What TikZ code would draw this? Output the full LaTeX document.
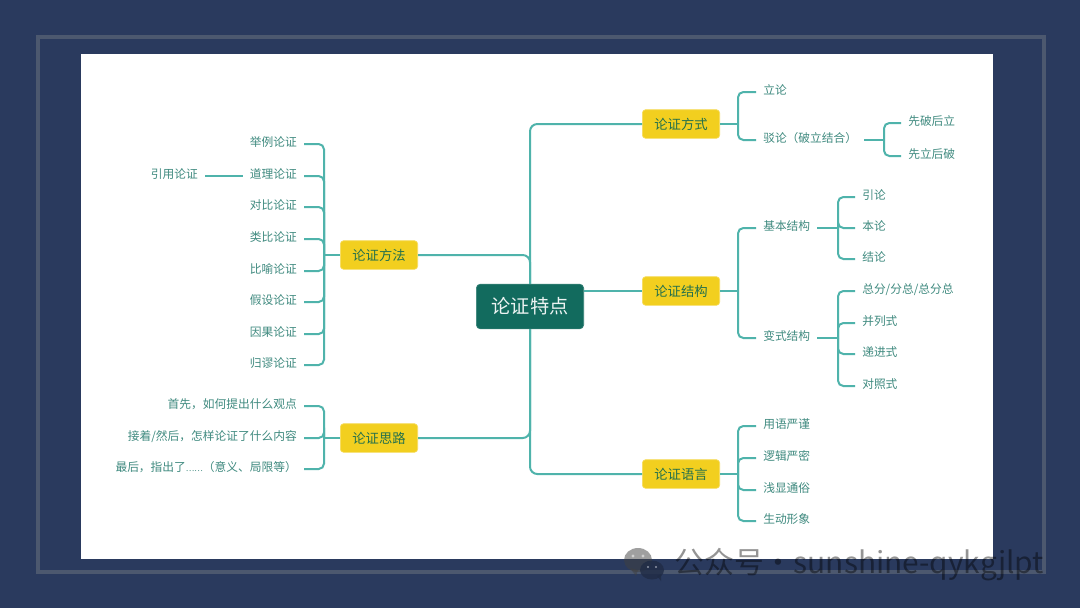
\documentclass[tikz,border=0pt]{standalone}
\usepackage{fontspec}
\setmainfont{Noto Sans CJK SC}
\definecolor{navy}{HTML}{2A3A5E}
\definecolor{framec}{HTML}{4C586F}
\definecolor{linec}{HTML}{4FB3AB}
\definecolor{rootc}{HTML}{126B5E}
\definecolor{yellowc}{HTML}{F2CF1F}
\definecolor{yellowt}{HTML}{24704C}
\definecolor{leaft}{HTML}{3F8A7F}
\tikzset{
  conn/.style={draw=linec,line width=1.5pt,rounded corners=4pt},
  trunk/.style={draw=linec,line width=1.5pt,rounded corners=5.5pt},
  leaf/.style={inner xsep=5.25pt,inner ysep=0pt,text=leaft,text height=7.3pt,text depth=3pt,font=\fontsize{8.8}{10}\selectfont},
  lleaf/.style={leaf,anchor=east},
  rleaf/.style={leaf,anchor=west},
  topic/.style={fill=yellowc,draw=yellowc!70!white,line width=.5pt,rounded corners=2.5pt,minimum width=58pt,minimum height=21.5pt,inner sep=0pt,text=yellowt,font=\fontsize{10}{12}\selectfont},
  rootbox/.style={fill=rootc,draw=rootc!85!white,line width=.5pt,rounded corners=3pt,minimum width=80.5pt,minimum height=33.5pt,inner sep=0pt,text=white!92!rootc,font=\fontsize{14.4}{17}\selectfont}
}
\begin{document}
\begin{tikzpicture}[x=0.75pt,y=-0.75pt]
\useasboundingbox (0,0) rectangle (1080,608);
\fill[navy] (0,0) rectangle (1080,608);
\draw[framec,line width=3pt] (38,36.5) rectangle (1043.5,571.5);
\fill[white] (80.5,54) rectangle (992.7,559.3);

% central and topics
\node[rootbox] (root) at (530,306.5) {论证特点};
\node[topic] (fs) at (681,124) {论证方式};
\node[topic] (jg) at (681,291) {论证结构};
\node[topic] (yy) at (681,474) {论证语言};
\node[topic] (ff) at (379,255) {论证方法};
\node[topic] (sl) at (379,438) {论证思路};

% left leaves: methods
\node[lleaf] (a1) at (304,144) {举例论证};
\node[lleaf] (a2) at (304,176) {道理论证};
\node[lleaf] (a3) at (304,207) {对比论证};
\node[lleaf] (a4) at (304,239) {类比论证};
\node[lleaf] (a5) at (304,271) {比喻论证};
\node[lleaf] (a6) at (304,302) {假设论证};
\node[lleaf] (a7) at (304,334) {因果论证};
\node[lleaf] (a8) at (304,365) {归谬论证};
\node[lleaf] (a0) at (205,176) {引用论证};
\coordinate (ffbus) at (324,255);

% left leaves: thinking
\node[lleaf] (b1) at (304,406) {首先，如何提出什么观点};
\node[lleaf] (b2) at (304,438) {接着/然后，怎样论证了什么内容};
\node[lleaf] (b3) at (304,469) {最后，指出了{\fontsize{6}{7}\selectfont ……}（意义、局限等）};
\coordinate (slbus) at (324,438);

% right leaves: way
\node[rleaf] (c1) at (756,92) {立论};
\node[rleaf] (c2) at (756,140) {驳论（破立结合）};
\node[rleaf] (c3) at (901,123) {先破后立};
\node[rleaf] (c4) at (901,156) {先立后破};
\coordinate (fsbus) at (738,124);
\coordinate (c2bus) at (884,140);

% right leaves: structure
\node[rleaf] (d1) at (756,228) {基本结构};
\node[rleaf] (d2) at (756,338) {变式结构};
\node[rleaf] (d3) at (855,197) {引论};
\node[rleaf] (d4) at (855,228) {本论};
\node[rleaf] (d5) at (855,259) {结论};
\node[rleaf] (d6) at (855,291) {总分/分总/总分总};
\node[rleaf] (d7) at (855,323) {并列式};
\node[rleaf] (d8) at (855,354) {递进式};
\node[rleaf] (d9) at (855,386) {对照式};
\coordinate (jgbus) at (738,291);
\coordinate (d1bus) at (838,228);
\coordinate (d2bus) at (838,338);

% right leaves: language
\node[rleaf] (e1) at (756,426) {用语严谨};
\node[rleaf] (e2) at (756,458) {逻辑严密};
\node[rleaf] (e3) at (756,490) {浅显通俗};
\node[rleaf] (e4) at (756,521) {生动形象};
\coordinate (yybus) at (738,474);

% trunk connectors
\draw[trunk] (root.north) |- (fs.west);
\draw[trunk] (root.south) |- (yy.west);
\draw[conn] (root.east |- jg.west) -- (jg.west);
\draw[trunk] (ff.east) -| (root.north);
\draw[trunk] (sl.east) -| (root.south);

% left buses
\draw[conn] (ff.west) -- (ffbus);
\foreach \n in {a1,a2,a3,a4,a5,a6,a7,a8} \draw[conn] (\n.east) -| (ffbus);
\draw[conn] (a0.east) -- (a2.west);
\draw[conn] (sl.west) -- (slbus);
\foreach \n in {b1,b2,b3} \draw[conn] (\n.east) -| (slbus);

% right buses
\draw[conn] (fs.east) -- (fsbus);
\foreach \n in {c1,c2} \draw[conn] (\n.west) -| (fsbus);
\draw[conn] (c2.east) -- (c2bus);
\foreach \n in {c3,c4} \draw[conn] (\n.west) -| (c2bus);
\draw[conn] (jg.east) -- (jgbus);
\foreach \n in {d1,d2} \draw[conn] (\n.west) -| (jgbus);
\draw[conn] (d1.east) -- (d1bus);
\foreach \n in {d3,d4,d5} \draw[conn] (\n.west) -| (d1bus);
\draw[conn] (d2.east) -- (d2bus);
\foreach \n in {d6,d7,d8,d9} \draw[conn] (\n.west) -| (d2bus);
\draw[conn] (yy.east) -- (yybus);
\foreach \n in {e1,e2,e3,e4} \draw[conn] (\n.west) -| (yybus);

% watermark
\begin{scope}[opacity=.5]
\fill[black!75] (638,560) ellipse [x radius=14,y radius=12];
\fill[black!75] (630,568) -- (636,576) -- (638,570) -- cycle;
\fill[white] (633,556) circle (1.6) (643,556) circle (1.6);
\end{scope}
\begin{scope}[opacity=.8]
\fill[navy!75!black] (652,570) ellipse [x radius=12,y radius=9.5];
\fill[navy!75!black] (657,576) -- (661,581) -- (661,574) -- cycle;
\fill[white!60!navy] (648,567) circle (1.2) (656,567) circle (1.2);
\end{scope}
\node[anchor=west,inner sep=0pt,text=black,text opacity=.42,font=\fontsize{22.4}{25}\selectfont] (wm) at (674,565) {公众号·sunshine-qykgjlpt};
\end{tikzpicture}
\end{document}
